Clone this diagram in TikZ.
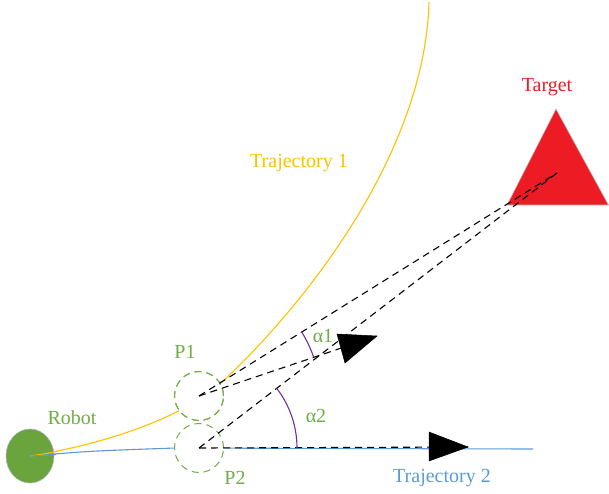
\documentclass[tikz,border=0pt]{standalone}
\usepackage{fontspec}
\setmainfont{Liberation Serif}
\usetikzlibrary{calc,shapes.geometric}
\definecolor{gr}{RGB}{112,173,71}
\definecolor{robotfill}{RGB}{106,164,60}
\definecolor{yel}{RGB}{255,192,0}
\definecolor{blu}{RGB}{91,155,213}
\definecolor{tred}{RGB}{237,28,36}
\definecolor{purp}{RGB}{112,48,160}
\tikzset{
  lbl/.style={font=\fontsize{20}{24}\selectfont, inner sep=0pt},
  pcircle/.style={circle, draw=gr, fill=white, dash pattern=on 7pt off 5pt, line width=1pt, inner sep=0pt, minimum size=49pt},
  sight/.style={black, dash pattern=on 7pt off 5pt, line width=1.1pt},
  anglearc/.style={purp, line width=1.1pt},
  headtri/.style={fill=black, draw=black, line width=0.5pt}
}
\begin{document}
\begin{tikzpicture}[x=1pt,y=-1pt]
\useasboundingbox (0,0) rectangle (609,493);
% key points
\coordinate (c1) at (199,396);
\coordinate (c2) at (199,448);
\coordinate (T) at (557,173);
\coordinate (a1tip) at (377,336);
\coordinate (a2tip) at (468,447);
\coordinate (blueEnd) at (533,449);
\coordinate (start) at (30,456);
\coordinate (ymid) at (222,382);
\coordinate (ytop) at (429,2);
% trajectories
\draw[yel, line width=1.1pt] (start) .. controls (100,445) and (182,419) .. (ymid)
  .. controls (310,300) and (425,150) .. (ytop);
\draw[blu, line width=1.1pt] (start) .. controls (90,451) .. (175,448) -- (blueEnd);
% robot
\node[ellipse, minimum width=48pt, minimum height=54pt, fill=robotfill, draw=gray!60, line width=0.6pt, inner sep=0pt] (robot) at (start) {};
\draw[yel, line width=1.1pt] (robot.center) .. controls (44,454) .. (56,451.5);
\draw[blu, line width=1.1pt] (robot.center) -- (56,454.5);
% position circles
\node[pcircle] (P1) at (c1) {};
\node[pcircle] (P2) at (c2) {};
\draw[gr, dash pattern=on 7pt off 5pt, line width=1pt] (P1.center) circle (24.5pt);
% target
\draw[fill=tred, draw=gray!50, line width=0.6pt] (556,109) -- (608.5,205) -- (507,205) -- cycle;
% sight lines
\draw[sight] (c1) -- (T);
\draw[sight] (c1) -- (a1tip);
\draw[sight] (c2) -- (T);
\draw[sight] (c2) -- (a2tip);
% heading arrows
\draw[headtri] (337,334) -- (a1tip) -- (345,363) -- cycle;
\draw[headtri] (429,432) -- (a2tip) -- (429,461) -- cycle;
% angle arcs
\draw[anglearc] ($(c1)+(-18.9:121)$) arc[start angle=-18.9, end angle=-32.0, radius=121];
\draw[anglearc] ($(c2)+(0:98)$) arc[start angle=0, end angle=-37.5, radius=98];
% labels
\node[lbl, text=gr] (robotlbl) at (72,418) {Robot};
\node[lbl, text=gr] (p1lbl) at (185,352) {P1};
\node[lbl, text=gr] (p2lbl) at (235,478) {P2};
\node[lbl, text=gr] (al1) at (323,336) {α1};
\node[lbl, text=gr] (al2) at (316,416) {α2};
\node[lbl, text=tred] (tlbl) at (547,87) {Target};
\node[lbl, text=yel] (tr1) at (299,163) {Trajectory 1};
\node[lbl, text=blu] (tr2) at (442,478) {Trajectory 2};
\end{tikzpicture}
\end{document}
